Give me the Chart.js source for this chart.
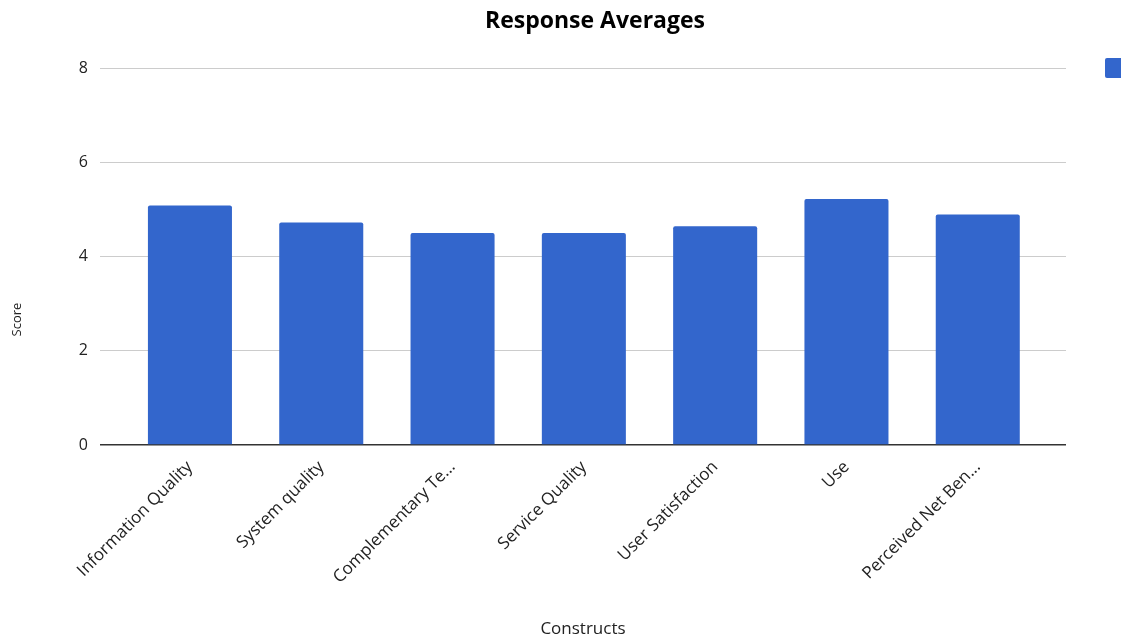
<!DOCTYPE html>
<html>
<head>
<meta charset="utf-8">
<script src="https://cdn.jsdelivr.net/npm/chart.js@4"></script>
<style>
  html, body { margin: 0; padding: 0; background: #fff; overflow: hidden; }
  #wrap { width: 1121px; height: 639px; position: relative; }
</style>
</head>
<body>
<div id="wrap"><canvas id="myChart"></canvas></div>
<script>
// data
var constructs = ['Information Quality', 'System quality', 'Complementary Te...', 'Service Quality', 'User Satisfaction', 'Use', 'Perceived Net Ben...'];
var scores = [5.08, 4.72, 4.50, 4.50, 4.64, 5.22, 4.89];
var yTicks = [0, 2, 4, 6, 8];

var barColor = '#3366CC';
var fontFam = '"Open Sans", "Noto Sans", sans-serif';

// bars sit on a numeric x axis so the side margins can match the original
var points = scores.map(function(v, i) { return { x: i, y: v }; });

// title, y title and the cut off legend square
var extras = {
  id: 'extras',
  afterDraw: function(chart) {
    var ctx = chart.ctx;
    var a = chart.chartArea;
    ctx.save();
    ctx.fillStyle = '#000';
    ctx.font = 'bold 23px ' + fontFam;
    ctx.textAlign = 'center';
    ctx.textBaseline = 'middle';
    ctx.fillText('Response Averages', (a.left + a.right) / 2 + 12, 21);

    ctx.fillStyle = '#222';
    ctx.font = '13px ' + fontFam;
    ctx.translate(17, chart.height / 2);
    ctx.rotate(-Math.PI / 2);
    ctx.fillText('Score', 0, 0);
    ctx.setTransform(1, 0, 0, 1, 0, 0);

    ctx.fillStyle = barColor;
    ctx.beginPath();
    ctx.roundRect(a.right + 39, a.top - 10, 20, 20, 2);
    ctx.fill();
    ctx.restore();
  }
};

var ctx = document.getElementById('myChart');
var myChart = new Chart(ctx, {
  type: 'bar',
  data: {
    datasets: [{
      label: 'Score',
      data: points,
      backgroundColor: barColor,
      borderRadius: { topLeft: 2, topRight: 2 },
      borderSkipped: 'bottom',
      barPercentage: 0.64,
      categoryPercentage: 1.0
    }]
  },
  options: {
    responsive: true,
    maintainAspectRatio: false,
    animation: false,
    layout: { padding: { top: 68, right: 55, left: 4, bottom: 0 } },
    plugins: {
      legend: { display: false },
      title: { display: false },
      tooltip: { enabled: false }
    },
    scales: {
      x: {
        type: 'linear',
        offset: false,
        min: -0.685,
        max: 6.672,
        afterBuildTicks: function(scale) {
          scale.ticks = constructs.map(function(c, i) { return { value: i }; });
        },
        grid: { display: false, drawTicks: false, offset: false },
        border: { display: false },
        ticks: {
          color: '#222',
          font: { family: fontFam, size: 17 },
          maxRotation: 45,
          minRotation: 45,
          autoSkip: false,
          padding: 12,
          callback: function(v) { return constructs[v]; }
        },
        title: {
          display: true,
          text: 'Constructs',
          color: '#222',
          font: { family: fontFam, size: 17 },
          padding: { top: 4, bottom: 0 }
        },
        afterFit: function(scale) { scale.height = 194; }
      },
      y: {
        min: 0,
        max: 8,
        afterBuildTicks: function(scale) {
          scale.ticks = yTicks.map(function(v) { return { value: v }; });
        },
        grid: {
          color: function(c) { return c.tick && c.tick.value === 0 ? '#333' : '#ccc'; },
          lineWidth: function(c) { return c.tick && c.tick.value === 0 ? 1.5 : 1; },
          drawTicks: false
        },
        border: { display: false },
        ticks: {
          color: '#222',
          font: { family: fontFam, size: 16 },
          padding: 12
        },
        afterFit: function(scale) { scale.width = 96; }
      }
    }
  },
  plugins: [extras]
});
</script>
</body>
</html>
